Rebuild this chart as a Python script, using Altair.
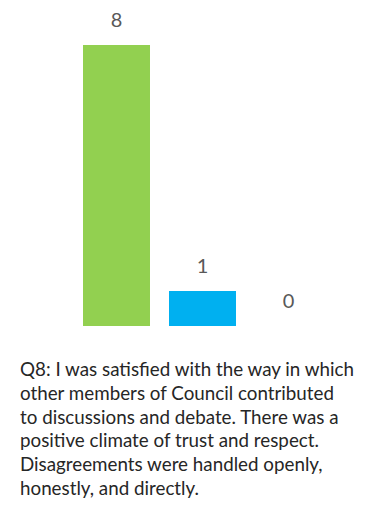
import altair as alt
import pandas as pd

categories = ["Agree", "Neutral", "Disagree"]
values = [8, 1, 0]
colors = ["#92D050", "#00B0F0", "#A5A5A5"]
title_lines = [
    "Q8: I was satisfied with the way in which",
    "other members of Council contributed",
    "to discussions and debate. There was a",
    "positive climate of trust and respect.",
    "Disagreements were handled openly,",
    "honestly, and directly.",
]

df = pd.DataFrame({"cat": categories, "val": values})

x = alt.X("cat:N", sort=categories, axis=None,
          scale=alt.Scale(paddingInner=0.221, paddingOuter=0.5))
y = alt.Y("val:Q", axis=None, scale=alt.Scale(domain=[0, 8], nice=False))

bars = alt.Chart(df).mark_bar().encode(
    x=x, y=y,
    color=alt.Color("cat:N", sort=categories, legend=None,
                    scale=alt.Scale(domain=categories, range=colors)),
)
labels = alt.Chart(df).mark_text(
    dy=-24, baseline="middle", fontSize=20, font="Lato", color="#595959"
).encode(x=x, y=y, text="val:Q")

chart = (bars + labels).properties(
    width=325,
    height=281,
    autosize=alt.AutoSizeParams(type="none"),
    padding={"left": 32, "top": 37, "right": 10, "bottom": 176},
    title=alt.TitleParams(
        text=title_lines,
        orient="bottom",
        anchor="start",
        frame="group",
        dx=-20,
        offset=35,
        font="Lato",
        fontSize=18.8,
        fontWeight="normal",
        color="#262626",
        lineHeight=23.8,
        baseline="top",
    ),
).configure_view(stroke=None)

chart.save("out.html", embed_options={"renderer": "svg", "actions": False})
